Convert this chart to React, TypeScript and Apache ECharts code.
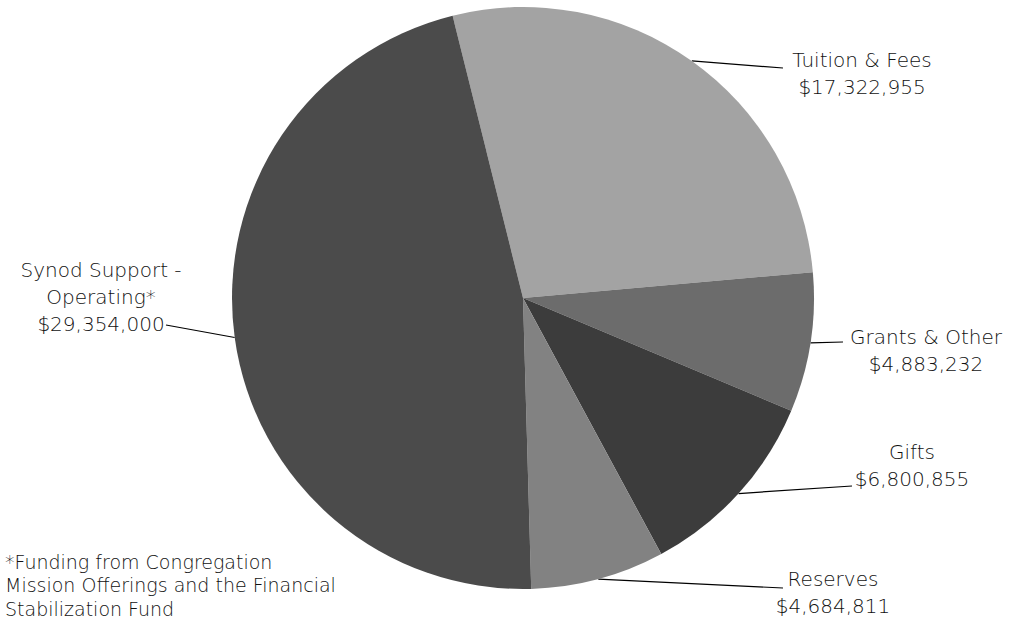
import React, { useEffect, useRef } from "react";
import * as echarts from "echarts";

const categories = ["Tuition & Fees", "Grants & Other", "Gifts", "Reserves", "Synod Support -\nOperating*"];
const values = [17322955, 4883232, 6800855, 4684811, 29354000];
const colors = ["#a3a3a3", "#6c6c6c", "#3c3c3c", "#828282", "#4b4b4b"];
const footnote = "*Funding from Congregation\nMission Offerings and the Financial\nStabilization Fund";

// label layout (centers) and leader line ends
const labelPos = [
  [862, 73],
  [926, 350],
  [912, 465],
  [833, 592],
  [101, 297],
];
const lineEnds = [
  [783, 68],
  [843, 342],
  [852, 486],
  [783, 588],
  [166, 325],
];

const fmt = (v: number) => "$" + v.toLocaleString("en-US");

export default function App() {
  const ref = useRef<HTMLDivElement>(null);
  useEffect(() => {
    const chart = echarts.init(ref.current!, null, { renderer: "svg" });
    const font = "'DejaVu Sans', sans-serif";
    chart.setOption({
      animation: false,
      backgroundColor: "#ffffff",
      series: [
        {
          type: "pie",
          center: [523, 298],
          radius: 291,
          startAngle: 104,
          clockwise: true,
          avoidLabelOverlap: false,
          data: categories.map((c, i) => ({
            name: c,
            value: values[i],
            itemStyle: { color: colors[i] },
          })),
          itemStyle: { borderWidth: 0 },
          label: {
            show: true,
            formatter: (p: any) => p.name + "\n" + fmt(p.value),
            fontFamily: font,
            fontWeight: 200,
            fontSize: 20,
            lineHeight: 27,
            color: "#111111",
            align: "center",
          },
          labelLine: {
            show: true,
            lineStyle: { color: "#000000", width: 1.2 },
          },
          labelLayout: (p: any) => {
            const i = p.dataIndex;
            const start = p.labelLinePoints ? p.labelLinePoints[0] : lineEnds[i];
            return {
              x: labelPos[i][0],
              y: labelPos[i][1],
              align: "center",
              verticalAlign: "middle",
              labelLinePoints: [start, lineEnds[i], lineEnds[i]],
            };
          },
          emphasis: { disabled: true },
        },
      ],
      graphic: [
        {
          type: "text",
          left: 5,
          top: 550,
          style: {
            text: footnote,
            fontFamily: font,
            fontWeight: 200,
            fontSize: 19,
            lineHeight: 23.5,
            fill: "#111111",
          },
        },
      ],
    });
    return () => chart.dispose();
  }, []);
  return <div ref={ref} style={{ width: 1013, height: 623, position: "absolute", left: 0, top: 0 }} />;
}
